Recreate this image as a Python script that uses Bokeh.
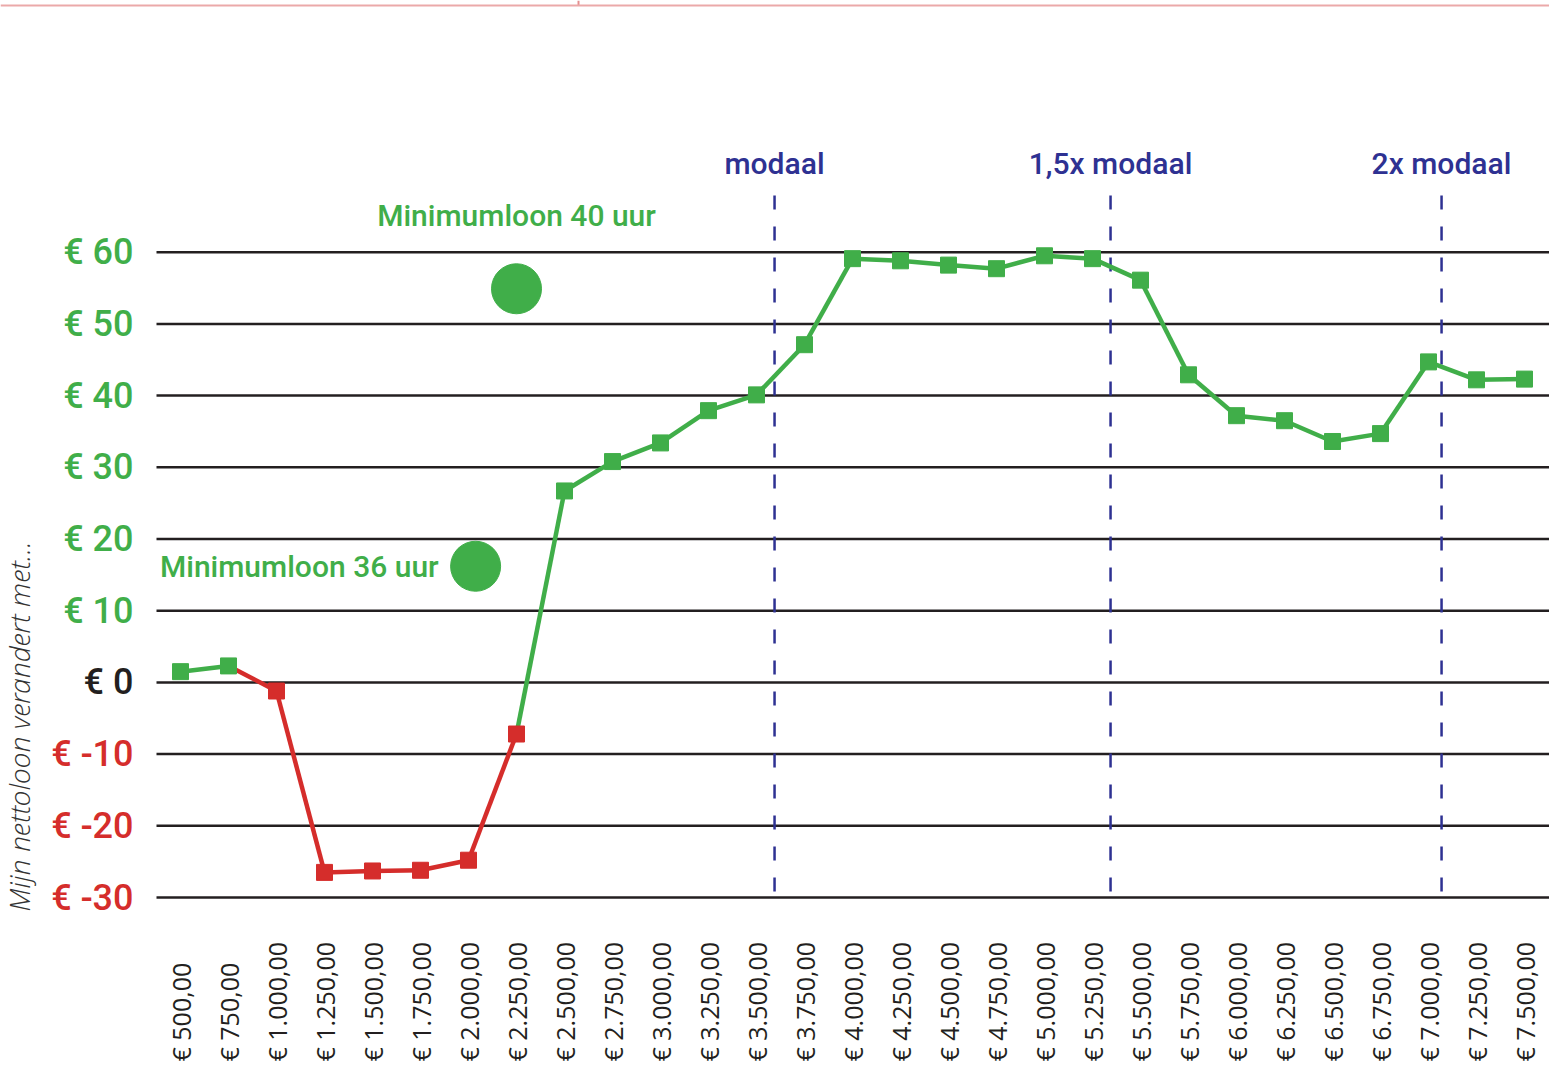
import math
from bokeh.plotting import figure
from bokeh.models import ColumnDataSource, LabelSet, Label, Range1d, Span
from bokeh.core.properties import value
from bokeh.embed import file_html
from bokeh.resources import INLINE

# ---------------- data ----------------
salaries = [500, 750, 1000, 1250, 1500, 1750, 2000, 2250, 2500, 2750, 3000, 3250,
            3500, 3750, 4000, 4250, 4500, 4750, 5000, 5250, 5500, 5750, 6000,
            6250, 6500, 6750, 7000, 7250, 7500]
salary_labels = ["€ 500,00", "€ 750,00", "€ 1.000,00", "€ 1.250,00", "€ 1.500,00",
                 "€ 1.750,00", "€ 2.000,00", "€ 2.250,00", "€ 2.500,00", "€ 2.750,00",
                 "€ 3.000,00", "€ 3.250,00", "€ 3.500,00", "€ 3.750,00", "€ 4.000,00",
                 "€ 4.250,00", "€ 4.500,00", "€ 4.750,00", "€ 5.000,00", "€ 5.250,00",
                 "€ 5.500,00", "€ 5.750,00", "€ 6.000,00", "€ 6.250,00", "€ 6.500,00",
                 "€ 6.750,00", "€ 7.000,00", "€ 7.250,00", "€ 7.500,00"]
net_change = [1.5, 2.3, -1.2, -26.5, -26.3, -26.2, -24.8, -7.2, 26.7, 30.8, 33.4,
              37.9, 40.1, 47.1, 59.1, 58.8, 58.2, 57.7, 59.5, 59.1, 56.1, 42.9,
              37.2, 36.5, 33.6, 34.7, 44.7, 42.2, 42.3]
y_ticks = [60, 50, 40, 30, 20, 10, 0, -10, -20, -30]
y_tick_labels = ["€ 60", "€ 50", "€ 40", "€ 30", "€ 20", "€ 10", "€ 0",
                 "€ -10", "€ -20", "€ -30"]
ref_salaries = [3594, 5344, 7068]
ref_labels = ["modaal", "1,5x modaal", "2x modaal"]
min_wage_salaries = [2037, 2250]
min_wage_change = [16.2, 54.9]
min_wage_labels = ["Minimumloon 36 uur", "Minimumloon 40 uur"]
y_title = "Mijn nettoloon verandert met..."

# ---------------- style ----------------
GREEN = "#40AE49"
RED = "#D52D2B"
NAVY = "#2E3192"
BLACK = "#231F20"
FONT = "'Roboto Medium', Roboto"

W, H = 1549, 1078
PX_X = 0.192          # px per euro
PX_Y = 7.17           # px per unit
ZERO_PAGE = 681.9     # pixel y of value 0
X0_PAGE = 180         # pixel x of €500

def dx(px):
    return 500 + (px - X0_PAGE) / PX_X

def dy(py):
    return (ZERO_PAGE - py) / PX_Y

p = figure(width=W, height=H, output_backend="svg", toolbar_location=None,
           x_axis_location=None, y_axis_location=None,
           x_range=Range1d(dx(0), dx(W)), y_range=Range1d(dy(H), dy(0)),
           min_border_left=0, min_border_right=0, min_border_top=0, min_border_bottom=0)
p.outline_line_color = None
p.background_fill_color = "white"
p.border_fill_color = "white"
p.grid.visible = False

# thin decorative frame line at top of page
p.add_layout(Span(location=dy(5), dimension="width", line_color="#EBA9A9", line_width=2))
p.segment(x0=[dx(578)], y0=[dy(0)], x1=[dx(578)], y1=[dy(5)], line_color="#E58F8F", line_width=2)

# horizontal grid lines
p.segment(x0=[dx(156)] * len(y_ticks), y0=y_ticks, x1=[dx(1560)] * len(y_ticks), y1=y_ticks,
          line_color=BLACK, line_width=2.5)

# reference (modaal) dashed lines
p.segment(x0=ref_salaries, y0=[dy(195)] * len(ref_salaries),
          x1=ref_salaries, y1=[dy(900)] * len(ref_salaries),
          line_color=NAVY, line_width=2.5, line_dash="14 17")
for s, t in zip(ref_salaries, ref_labels):
    p.add_layout(Label(x=s, y=dy(163), text=t, text_align="center", text_baseline="middle",
                       text_font=FONT, text_font_size="30px",
                       text_font_style="normal", text_color=NAVY))

# line segments, colored by sign of end point
seg_colors = [GREEN if v >= 0 else RED for v in net_change[1:]]
seg_src = ColumnDataSource(dict(x0=salaries[:-1], y0=net_change[:-1],
                                x1=salaries[1:], y1=net_change[1:], c=seg_colors))
p.segment("x0", "y0", "x1", "y1", source=seg_src, line_color="c", line_width=4.5)

pt_colors = [GREEN if v >= 0 else RED for v in net_change]
pt_src = ColumnDataSource(dict(x=salaries, y=net_change, c=pt_colors))
p.scatter("x", "y", source=pt_src, marker="square", size=16, fill_color="c", line_color="c")

# minimum wage points
p.scatter(min_wage_salaries, min_wage_change, marker="circle", size=50,
          fill_color=GREEN, line_color=GREEN)
p.add_layout(Label(x=min_wage_salaries[0], y=min_wage_change[0], x_offset=-37,
                   text=min_wage_labels[0], text_align="right", text_baseline="middle",
                   text_font=FONT, text_font_size="30px",
                   text_font_style="normal", text_color=GREEN))
p.add_layout(Label(x=min_wage_salaries[1], y=dy(215), text=min_wage_labels[1],
                   text_align="center", text_baseline="middle",
                   text_font=FONT, text_font_size="30px",
                   text_font_style="normal", text_color=GREEN))

# y tick labels
ycol = [GREEN if v > 0 else (BLACK if v == 0 else RED) for v in y_ticks]
ysrc = ColumnDataSource(dict(x=[dx(133)] * len(y_ticks), y=y_ticks, t=y_tick_labels, c=ycol))
p.add_layout(LabelSet(x="x", y="y", text="t", source=ysrc,
                      text_align="right", text_baseline="middle", text_color="c",
                      text_font=value(FONT), text_font_size="36px",
                      text_font_style="normal"))

# x tick labels (rotated, bottom aligned)
xsrc = ColumnDataSource(dict(x=salaries, y=[dy(1061)] * len(salaries), t=salary_labels))
p.add_layout(LabelSet(x="x", y="y", text="t", source=xsrc, angle=math.pi / 2,
                      text_align="left", text_baseline="middle", text_color=BLACK,
                      text_font=value("Open Sans"), text_font_size="25px"))

# y axis title
p.add_layout(Label(x=dx(18), y=dy(726), text=y_title, angle=math.pi / 2,
                   text_align="center", text_baseline="middle", text_color="#333333",
                   text_font="'Open Sans Light', 'Open Sans'", text_font_size="28.5px",
                   text_font_style="italic"))

open("out.html", "w").write(file_html(p, INLINE))
